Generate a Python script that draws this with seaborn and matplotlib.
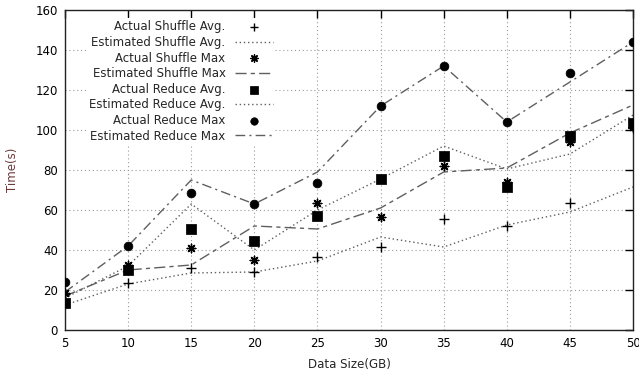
import numpy as np
import pandas as pd
import matplotlib
matplotlib.use('Agg')
import matplotlib.pyplot as plt
import seaborn as sns

# data
data_size = [5, 10, 15, 20, 25, 30, 35, 40, 45, 50]

actual_shuffle_avg = [18, 23.5, 31, 29, 36.5, 41.5, 55.5, 52, 63.5, 101]
est_shuffle_avg = [12.5, 23, 28.5, 29, 34.5, 46.5, 41.5, 52.5, 59, 71.5]
actual_shuffle_max = [18.5, 32.5, 41, 35, 63.5, 56.5, 82, 74, 94, 101.5]
est_shuffle_max = [17, 30, 32.5, 52, 50.5, 61, 79, 81, 98.5, 112.5]
actual_reduce_avg = [13.5, 30, 50.5, 44.5, 57, 75.5, 87, 71.5, 97, 103.5]
est_reduce_avg = [16, 32, 63, 40, 60, 75.5, 92, 80.5, 88, 107.5]
actual_reduce_max = [24, 42, 68.5, 63, 73.5, 112, 132, 104, 128.5, 144]
est_reduce_max = [19, 42, 75, 63, 79, 112, 132, 104, 124, 144]

sns.set_style("white")
plt.rcParams['font.family'] = ['DejaVu Sans']

fig = plt.figure(figsize=(6.39, 3.77), dpi=100)
ax = fig.add_axes([0.1017, 0.1247, 0.889, 0.8488])

line_col = '#5f5f5f'
dot_style = (0, (1, 2))

# actual values are plotted as markers, estimates as lines
sns.scatterplot(x=data_size, y=actual_shuffle_avg, ax=ax, marker='+', s=50,
                color='black', linewidth=1, label='Actual Shuffle Avg.', zorder=3)
sns.lineplot(x=data_size, y=est_shuffle_avg, ax=ax, color=line_col, lw=1,
             linestyle=dot_style, label='Estimated Shuffle Avg.')
sns.scatterplot(x=data_size, y=actual_shuffle_max, ax=ax, marker=(8, 2, 0), s=38,
                color='black', linewidth=1, label='Actual Shuffle Max', zorder=3)
sns.lineplot(x=data_size, y=est_shuffle_max, ax=ax, color=line_col, lw=1,
             linestyle=(0, (8, 3, 3, 3)), label='Estimated Shuffle Max')
sns.scatterplot(x=data_size, y=actual_reduce_avg, ax=ax, marker='s', s=45,
                color='black', edgecolor='black', label='Actual Reduce Avg.', zorder=3)
sns.lineplot(x=data_size, y=est_reduce_avg, ax=ax, color=line_col, lw=1,
             linestyle=dot_style, label='Estimated Reduce Avg.')
sns.scatterplot(x=data_size, y=actual_reduce_max, ax=ax, marker='o', s=40,
                color='black', edgecolor='black', label='Actual Reduce Max', zorder=3)
sns.lineplot(x=data_size, y=est_reduce_max, ax=ax, color=line_col, lw=1,
             linestyle=(0, (7, 3, 1.5, 3)), label='Estimated Reduce Max')

ax.set_xlim(5, 50)
ax.set_ylim(0, 160)
ax.set_xticks(data_size)
ax.set_yticks(range(0, 161, 20))
ax.grid(True, color='#999999', linestyle=(0, (1, 2.5)), lw=0.8)
ax.tick_params(direction='in', length=6, width=1, top=True, right=True,
               labelsize=8.5, colors='black', pad=5)
for sp in ax.spines.values():
    sp.set_color('#222222')
    sp.set_linewidth(1)

ax.set_xlabel('Data Size(GB)', fontsize=8.5, labelpad=6)
ax.set_ylabel('Time(s)', fontsize=8.5, color='#6b3a3a', labelpad=12)

leg = ax.legend(loc='upper right', bbox_to_anchor=(0.37, 0.975), markerfirst=False,
                fontsize=8.5, handlelength=3.2, handletextpad=0.8, labelspacing=0.22,
                frameon=True, framealpha=1, facecolor='white', edgecolor='none',
                borderpad=0.2, borderaxespad=0, fancybox=False, markerscale=0.85)
leg.set_zorder(5)

fig.savefig('out.png', dpi=100)
